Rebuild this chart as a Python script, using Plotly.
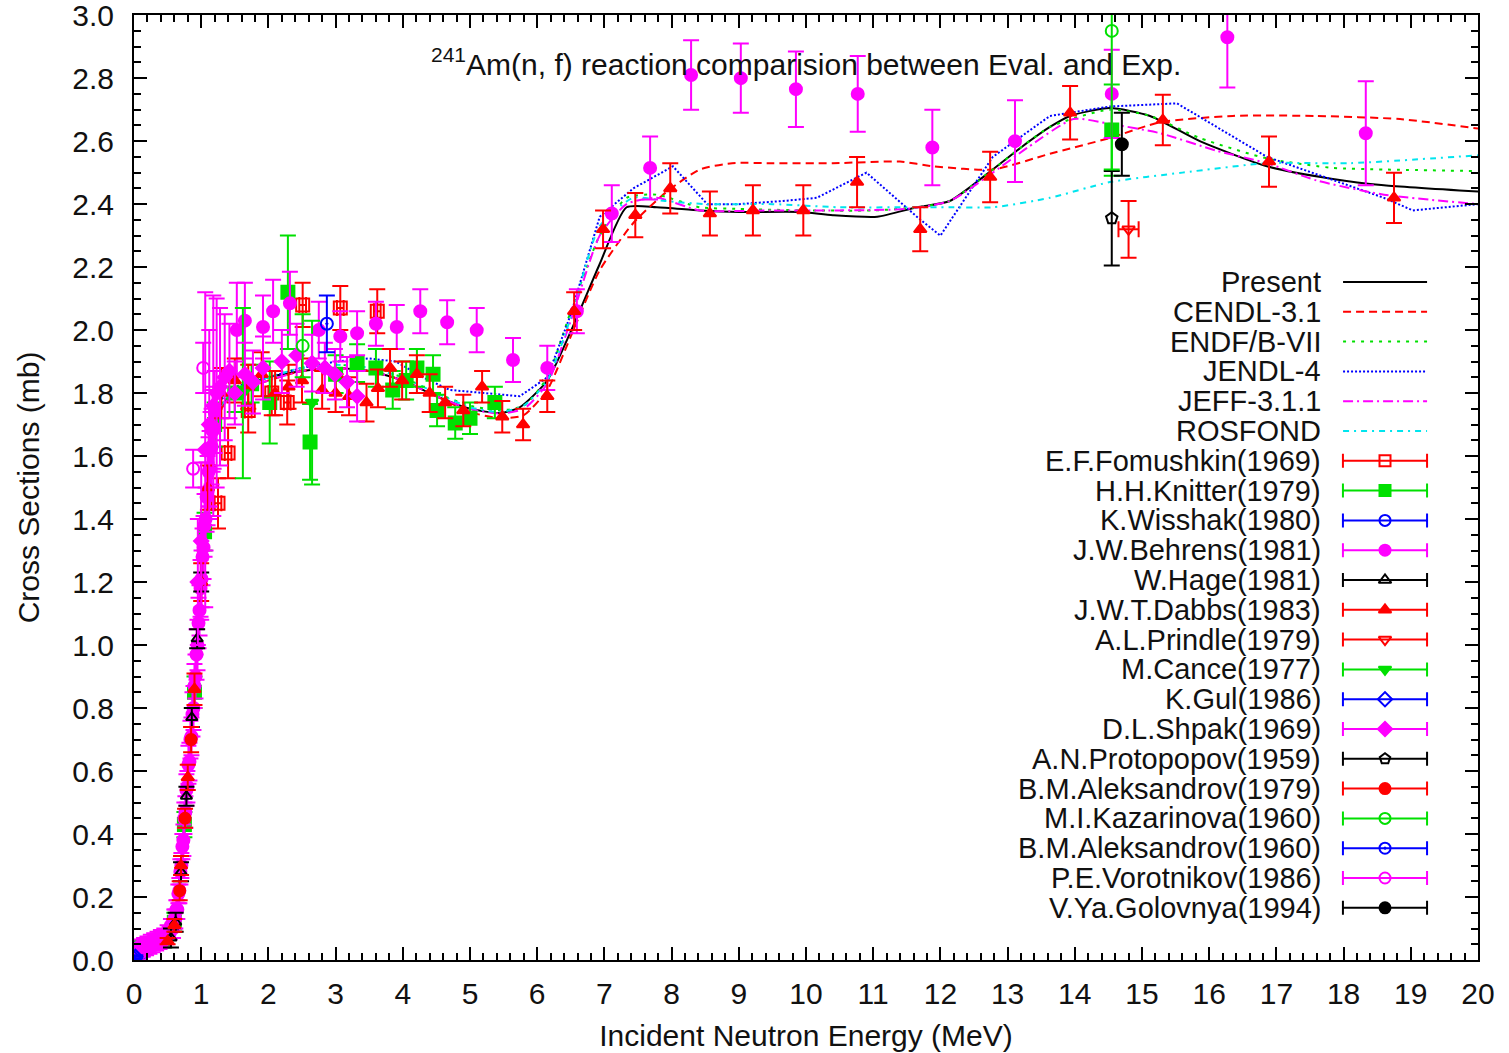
import plotly.graph_objects as go

# ---------------- evaluated curves ----------------
present_e = [0.0,0.1,0.2,0.3,0.4,0.5,0.6,0.65,0.7,0.75,0.8,0.85,0.9,0.95,1.0,1.05,1.1,1.2,1.3,1.4,1.5,1.7,2.0,2.5,3.0,3.5,4.0,4.5,5.0,5.45,5.74,6.15,6.59,6.93,7.33,7.78,8.42,9.0,9.91,10.4,11.06,11.65,12.14,12.78,13.2,13.63,13.93,14.52,15.12,15.86,16.86,17.84,18.6,20.0]
present_s = [0.01,0.02,0.025,0.03,0.04,0.06,0.10,0.16,0.27,0.42,0.57,0.71,0.85,1.01,1.18,1.34,1.48,1.66,1.75,1.79,1.81,1.83,1.85,1.87,1.88,1.87,1.84,1.79,1.75,1.737,1.755,1.84,2.04,2.21,2.39,2.39,2.38,2.375,2.375,2.365,2.36,2.39,2.41,2.51,2.58,2.645,2.68,2.705,2.68,2.60,2.52,2.48,2.46,2.44]

cendl_e = [0.0,0.2,0.4,0.5,0.6,0.7,0.8,0.9,1.0,1.1,1.2,1.3,1.5,2.0,2.5,3.0,3.5,4.0,4.5,5.0,5.45,5.8,6.15,6.5,6.93,7.43,7.93,8.42,8.9,9.5,10.4,11.4,11.9,12.78,13.63,14.52,15.27,16.35,17.6,18.84,20.0]
cendl_s = [0.01,0.025,0.04,0.06,0.10,0.28,0.57,0.86,1.18,1.47,1.67,1.75,1.80,1.84,1.87,1.88,1.87,1.84,1.79,1.74,1.72,1.73,1.81,1.98,2.19,2.34,2.44,2.51,2.53,2.53,2.53,2.535,2.52,2.51,2.56,2.61,2.66,2.68,2.68,2.67,2.64]

endf_e = [0.0,0.2,0.4,0.5,0.6,0.7,0.8,0.9,1.0,1.1,1.2,1.3,1.5,2.0,2.5,3.0,3.5,4.0,4.5,5.0,5.45,5.8,6.15,6.5,6.93,7.33,7.78,8.42,9.0,10.0,11.0,11.65,12.14,12.78,13.63,14.52,15.12,15.86,16.86,17.84,18.6,20.0]
endf_s = [0.01,0.025,0.04,0.06,0.10,0.28,0.58,0.87,1.19,1.49,1.68,1.76,1.81,1.85,1.88,1.89,1.88,1.85,1.80,1.76,1.745,1.76,1.85,2.06,2.30,2.42,2.43,2.39,2.385,2.38,2.38,2.39,2.41,2.51,2.645,2.70,2.68,2.61,2.545,2.515,2.51,2.505]

jendl_e = [0.0,0.2,0.4,0.5,0.6,0.7,0.8,0.9,1.0,1.1,1.2,1.3,1.5,2.0,2.5,3.0,3.5,3.9,4.3,4.7,5.2,5.74,6.15,6.5,6.93,7.43,8.02,8.53,9.0,9.66,10.16,10.9,11.65,12.0,12.78,13.63,14.52,15.52,16.86,18.6,19.03,20.0]
jendl_s = [0.01,0.025,0.04,0.06,0.11,0.31,0.60,0.89,1.21,1.50,1.70,1.78,1.82,1.85,1.88,1.90,1.91,1.90,1.85,1.81,1.80,1.79,1.85,2.05,2.36,2.45,2.52,2.40,2.40,2.41,2.42,2.50,2.36,2.30,2.55,2.68,2.71,2.72,2.55,2.42,2.38,2.40]

jeff_e = [0.0,0.2,0.4,0.5,0.6,0.7,0.8,0.9,1.0,1.1,1.2,1.3,1.5,2.0,2.5,3.0,3.5,4.0,4.5,5.0,5.45,5.8,6.15,6.5,6.93,7.33,7.78,8.42,9.5,10.5,11.5,12.14,12.78,13.3,13.98,14.52,15.27,16.1,16.86,17.6,18.6,20.0]
jeff_s = [0.01,0.025,0.04,0.06,0.10,0.27,0.56,0.85,1.17,1.46,1.66,1.75,1.80,1.84,1.87,1.88,1.87,1.84,1.79,1.75,1.735,1.75,1.83,2.03,2.30,2.40,2.42,2.38,2.38,2.38,2.385,2.41,2.50,2.58,2.67,2.655,2.625,2.57,2.53,2.475,2.43,2.40]

ros_e = [0.0,0.2,0.4,0.5,0.6,0.7,0.8,0.9,1.0,1.1,1.2,1.3,1.5,2.0,2.5,3.0,3.5,4.0,4.5,5.0,5.45,5.8,6.15,6.5,6.93,7.43,7.9,8.5,9.5,10.5,11.5,12.14,12.78,13.63,14.52,15.6,16.86,18.1,20.0]
ros_s = [0.01,0.025,0.04,0.06,0.10,0.29,0.58,0.87,1.19,1.48,1.68,1.76,1.81,1.85,1.88,1.89,1.88,1.85,1.80,1.755,1.74,1.76,1.84,2.04,2.33,2.42,2.41,2.40,2.40,2.39,2.39,2.39,2.39,2.42,2.47,2.50,2.53,2.53,2.555]

# ---------------- experimental data ----------------
fom_e = [1.25,1.40,1.70,2.05,2.28,2.51,3.07,3.62]
fom_s = [1.45,1.61,1.745,1.80,1.77,2.08,2.07,2.06]
fom_ds = [0.08,0.08,0.07,0.07,0.07,0.07,0.07,0.07]
fom_de = [0.05,0.05,0.05,0.05,0.05,0.05,0.05,0.05]

kn_e = [0.02,0.45,0.6,0.75,0.9,1.05,1.2,1.5,1.75,2.02,2.29,2.62,3.0,3.32,3.6,3.85,4.05,4.21,4.45,4.51,4.78,5.0,5.37,14.55]
kn_s = [0.04,0.06,0.12,0.43,0.85,1.36,1.70,1.80,1.83,1.77,2.12,1.645,1.86,1.895,1.88,1.81,1.84,1.88,1.86,1.745,1.705,1.72,1.77,2.635]
kn_ds = [0.02,0.02,0.03,0.04,0.05,0.06,0.07,0.06,0.06,0.13,0.18,0.12,0.06,0.06,0.06,0.06,0.06,0.06,0.06,0.05,0.05,0.05,0.05,0.145]

ws_e = [0.01,0.03,0.05,0.08,0.12,0.16,0.2]
ws_s = [0.01,0.012,0.015,0.018,0.022,0.026,0.03]
ws_ds = [0.005,0.005,0.005,0.005,0.005,0.005,0.005]

beh_e = [0.02,0.05,0.08,0.1,0.13,0.15,0.18,0.2,0.23,0.25,0.28,0.3,0.33,0.35,0.38,0.4,0.43,0.45,0.48,0.5,0.53,0.55,0.58,0.6,0.615,0.63,0.645,0.66,0.675,0.69,0.705,0.72,0.735,0.75,0.765,0.78,0.795,0.81,0.825,0.84,0.855,0.87,0.885,0.9,0.915,0.93,0.945,0.96,0.975,0.99,1.005,1.02,1.035,1.05,1.065,1.08,1.095,1.11,1.125,1.14,1.155,1.17,1.185,1.2,
         1.53,1.65,1.92,2.07,2.32,2.75,3.07,3.32,3.6,3.91,4.26,4.66,5.1,5.64,6.15,6.59,7.11,7.68,8.29,9.03,9.85,10.77,11.88,13.11,14.55,16.27,18.33]
beh_s = [0.03,0.035,0.02,0.045,0.03,0.05,0.035,0.055,0.04,0.06,0.045,0.065,0.05,0.07,0.055,0.075,0.06,0.08,0.07,0.09,0.085,0.11,0.10,0.13,0.13,0.16,0.16,0.21,0.22,0.28,0.30,0.36,0.38,0.45,0.47,0.54,0.55,0.62,0.63,0.70,0.71,0.78,0.80,0.87,0.90,0.97,1.00,1.07,1.11,1.18,1.21,1.28,1.31,1.38,1.40,1.47,1.49,1.55,1.56,1.62,1.63,1.68,1.69,1.74,
         2.0,2.03,2.01,2.06,2.085,2.0,1.98,1.99,2.02,2.01,2.06,2.025,2.0,1.905,1.88,2.06,2.37,2.515,2.81,2.80,2.765,2.75,2.58,2.60,2.75,2.93,2.625]
beh_ds = [0.02,0.02,0.02,0.02,0.02,0.02,0.02,0.02,0.02,0.02,0.02,0.02,0.02,0.02,0.02,0.02,0.02,0.02,0.02,0.02,0.02,0.02,0.03,0.03,0.03,0.03,0.03,0.03,0.04,0.04,0.04,0.04,0.05,0.05,0.05,0.05,0.05,0.06,0.06,0.06,0.06,0.07,0.07,0.07,0.07,0.08,0.08,0.08,0.08,0.09,0.09,0.09,0.10,0.10,0.10,0.11,0.11,0.11,0.12,0.12,0.12,0.13,0.13,0.13,
          0.15,0.12,0.10,0.10,0.10,0.09,0.08,0.07,0.07,0.07,0.07,0.07,0.07,0.07,0.07,0.07,0.09,0.10,0.11,0.11,0.12,0.12,0.12,0.13,0.14,0.16,0.165]

hg_e = [0.55,0.62,0.7,0.78,0.86,0.94,1.0]
hg_s = [0.07,0.12,0.28,0.52,0.77,1.02,1.2]
hg_ds = [0.03,0.03,0.03,0.03,0.03,0.03,0.03]

db_e = [0.5,0.6,0.7,0.8,0.9,1.0,1.1,1.3,1.5,1.7,1.9,2.1,2.3,2.5,2.8,3.0,3.2,3.46,3.63,3.81,3.99,4.21,4.40,4.63,4.90,5.18,5.48,5.79,6.15,6.55,6.98,7.46,7.98,8.57,9.21,9.96,10.76,11.7,12.74,13.93,15.31,16.89,18.75]
db_s = [0.06,0.11,0.30,0.58,0.86,1.20,1.50,1.80,1.84,1.82,1.86,1.80,1.82,1.84,1.81,1.80,1.79,1.77,1.815,1.88,1.84,1.86,1.80,1.77,1.745,1.82,1.725,1.70,1.79,2.06,2.32,2.365,2.45,2.37,2.38,2.38,2.47,2.32,2.486,2.69,2.667,2.535,2.42]
db_ds = [0.01,0.02,0.03,0.04,0.05,0.06,0.07,0.08,0.07,0.07,0.07,0.07,0.07,0.07,0.06,0.06,0.06,0.06,0.06,0.06,0.06,0.06,0.06,0.05,0.05,0.05,0.05,0.05,0.05,0.06,0.06,0.07,0.08,0.07,0.08,0.08,0.08,0.07,0.08,0.085,0.08,0.08,0.08]

pri_e = [14.8]
pri_s = [2.32]
pri_ds = [0.09]
pri_de = [0.15]

can_e = [1.62,2.65]
can_s = [1.80,1.77]
can_ds = [0.27,0.26]

gul_e = [0.0,0.02]
gul_s = [0.005,0.01]
gul_ds = [0.005,0.005]

shp_e = [0.95,1.0,1.06,1.12,1.18,1.23,1.28,1.35,1.42,1.5,1.65,1.77,1.92,2.2,2.42,2.65,2.84,2.99,3.17,3.32]
shp_s = [1.20,1.33,1.62,1.70,1.76,1.80,1.82,1.85,1.87,1.80,1.86,1.835,1.88,1.90,1.92,1.895,1.88,1.86,1.835,1.79]
shp_ds = [0.2,0.25,0.5,0.3,0.35,0.3,0.25,0.2,0.15,0.1,0.1,0.1,0.1,0.1,0.1,0.09,0.08,0.08,0.08,0.08]

pro_e = [14.55]
pro_s = [2.355]
pro_ds = [0.15]

al79_e = [0.68,0.76,0.85]
al79_s = [0.22,0.45,0.70]
al79_ds = [0.03,0.03,0.04]

kaz_e = [2.51,14.55]
kaz_s = [1.95,2.95]
kaz_ds = [0.10,0.44]

al60_e = [2.87]
al60_s = [2.02]
al60_ds = [0.09]

vor_e = [0.88,1.03]
vor_s = [1.56,1.88]
vor_ds = [0.06,0.08]

gol_e = [14.7]
gol_s = [2.59]
gol_ds = [0.10]

FONT = "Liberation Sans, Arial, sans-serif"
FS = 30
RED, GREEN, BLUE, MAG, CYAN, BLK = "#ff0000", "#00e000", "#0000ff", "#ff00ff", "#00e5ee", "#000000"

fig = go.Figure()

evals = [
    ("Present", present_e, present_s, BLK, "solid", "spline"),
    ("CENDL-3.1", cendl_e, cendl_s, RED, "8px,5px", "spline"),
    ("ENDF/B-VII", endf_e, endf_s, GREEN, "3px,6px", "spline"),
    ("JENDL-4", jendl_e, jendl_s, BLUE, "2px,2px", "linear"),
    ("JEFF-3.1.1", jeff_e, jeff_s, MAG, "10px,4px,2px,4px", "spline"),
    ("ROSFOND", ros_e, ros_s, CYAN, "6px,5px,2px,5px", "spline"),
]
for name, e, s, c, d, shp in evals:
    fig.add_trace(go.Scatter(x=e, y=s, mode="lines", name=name, showlegend=False,
                             line=dict(color=c, width=2, dash=d, shape=shp, smoothing=0.6)))

exps = [
    ("E.F.Fomushkin(1969)", fom_e, fom_s, fom_ds, fom_de, RED, "square-open", 13),
    ("H.H.Knitter(1979)", kn_e, kn_s, kn_ds, None, GREEN, "square", 13),
    ("K.Wisshak(1980)", ws_e, ws_s, ws_ds, None, BLUE, "circle-open", 11),
    ("J.W.Behrens(1981)", beh_e, beh_s, beh_ds, None, MAG, "circle", 12),
    ("W.Hage(1981)", hg_e, hg_s, hg_ds, None, BLK, "triangle-up-open", 10),
    ("J.W.T.Dabbs(1983)", db_e, db_s, db_ds, None, RED, "triangle-up", 11),
    ("A.L.Prindle(1979)", pri_e, pri_s, pri_ds, pri_de, RED, "triangle-down-open", 11),
    ("M.Cance(1977)", can_e, can_s, can_ds, None, GREEN, "triangle-down", 11),
    ("K.Gul(1986)", gul_e, gul_s, gul_ds, None, BLUE, "diamond-open", 11),
    ("D.L.Shpak(1969)", shp_e, shp_s, shp_ds, None, MAG, "diamond", 11),
    ("A.N.Protopopov(1959)", pro_e, pro_s, pro_ds, None, BLK, "pentagon-open", 12),
    ("B.M.Aleksandrov(1979)", al79_e, al79_s, al79_ds, None, RED, "circle", 11),
    ("M.I.Kazarinova(1960)", kaz_e, kaz_s, kaz_ds, None, GREEN, "circle-open", 12),
    ("B.M.Aleksandrov(1960)", al60_e, al60_s, al60_ds, None, BLUE, "circle-open-dot", 12),
    ("P.E.Vorotnikov(1986)", vor_e, vor_s, vor_ds, None, MAG, "circle-open", 12),
    ("V.Ya.Golovnya(1994)", gol_e, gol_s, gol_ds, None, BLK, "circle", 12),
]
for name, e, s, ds, de, c, sym, sz in exps:
    kw = {}
    if de is not None:
        kw["error_x"] = dict(type="data", array=de, visible=True, color=c, thickness=2, width=8)
    fig.add_trace(go.Scatter(x=e, y=s, mode="markers", name=name, showlegend=False,
                             marker=dict(symbol=sym, size=sz, color=c, line=dict(color=c, width=2)),
                             error_y=dict(type="data", array=ds, visible=True, color=c, thickness=2, width=8),
                             **kw))

# ---------------- gnuplot-style key (text left, sample right) ----------------
y0_px, step_px = 282.0, 29.8
plot_top, plot_bot = 15.0, 960.0
x_txt, x_l, x_m, x_r = 0.8847, 0.8996, 0.9308, 0.9621
annotations = []
entries = [(n, c, d, None) for n, e, s, c, d, shp in evals] + [(n, c, None, sym) for n, e, s, ds, de, c, sym, sz in exps]
for i, (name, c, d, sym) in enumerate(entries):
    ypx = y0_px + i * step_px
    yp = (plot_bot - ypx) / (plot_bot - plot_top)
    annotations.append(dict(text=name, x=x_txt, y=yp, xref="paper", yref="paper", xanchor="right",
                            yanchor="middle", showarrow=False, font=dict(family=FONT, size=29, color="#111")))
    if sym is None:
        fig.add_trace(go.Scatter(x=[x_l, x_r], y=[yp, yp], mode="lines", xaxis="x2", yaxis="y2",
                                 showlegend=False, hoverinfo="skip", cliponaxis=False,
                                 line=dict(color=c, width=2, dash=d)))
    else:
        fig.add_trace(go.Scatter(x=[x_m], y=[yp], mode="markers", xaxis="x2", yaxis="y2",
                                 showlegend=False, hoverinfo="skip", cliponaxis=False,
                                 marker=dict(symbol=sym, size=11, color=c, line=dict(color=c, width=2)),
                                 error_x=dict(type="data", array=[x_r - x_m], visible=True, color=c,
                                              thickness=2, width=7)))

annotations.append(dict(text="<sup>241</sup>Am(n, f) reaction comparision between Eval. and Exp.",
                        x=0.5, y=0.950, xref="paper", yref="paper", xanchor="center", yanchor="middle",
                        showarrow=False, font=dict(family=FONT, size=FS, color="#111")))

axis_common = dict(showline=True, linewidth=2, linecolor="black", mirror="allticks", ticks="inside",
                   ticklen=13, tickwidth=2, tickcolor="black", showgrid=False, zeroline=False,
                   tickfont=dict(family=FONT, size=FS, color="#111"), automargin=False,
                   ticklabeloverflow="allow")

fig.update_layout(
    width=1509, height=1053,
    margin=dict(l=134, r=31, t=15, b=93),
    plot_bgcolor="white", paper_bgcolor="white",
    showlegend=False,
    annotations=annotations,
    xaxis=dict(range=[0, 20], tickmode="linear", tick0=0, dtick=1,
               minor=dict(dtick=0.2, ticks="inside", ticklen=7, tickwidth=1.5, tickcolor="black", showgrid=False),
               title=dict(text="Incident Neutron Energy (MeV)", font=dict(family=FONT, size=FS, color="#111"), standoff=16),
               ticklabelstandoff=6, **axis_common),
    yaxis=dict(range=[0, 3.0005], tickmode="array",
               tickvals=[0.0,0.2,0.4,0.6,0.8,1.0,1.2,1.4,1.6,1.8,2.0,2.2,2.4,2.6,2.8,3.0],
               ticktext=["0.0","0.2","0.4","0.6","0.8","1.0","1.2","1.4","1.6","1.8","2.0","2.2","2.4","2.6","2.8","3.0"],
               minor=dict(dtick=0.05, tick0=0, ticks="inside", ticklen=7, tickwidth=1.5, tickcolor="black", showgrid=False),
               title=dict(text="Cross Sections (mb)", font=dict(family=FONT, size=FS, color="#111"), standoff=24),
               ticklabelstandoff=12, **axis_common),
    xaxis2=dict(overlaying="x", range=[0, 1], visible=False, anchor="y2", fixedrange=True),
    yaxis2=dict(overlaying="y", range=[0, 1], visible=False, anchor="x2", fixedrange=True),
)

fig.write_html("out.html")
